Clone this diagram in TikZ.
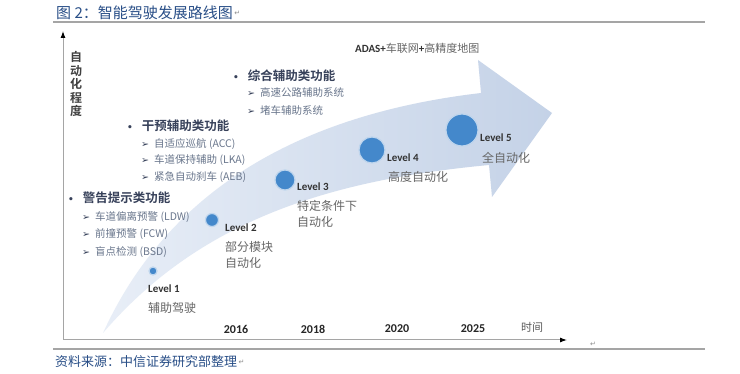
\documentclass[tikz,border=0pt]{standalone}
\usepackage{fontspec}
\setmainfont{Noto Sans CJK SC}[BoldFont={Noto Sans CJK SC Bold}]
\newfontfamily\latinfont{Carlito}
\newfontfamily\symfont{DejaVu Sans}
\usetikzlibrary{arrows.meta,positioning}
\definecolor{titleblue}{RGB}{40,78,135}
\definecolor{headgray}{RGB}{55,65,90}
\definecolor{itemgray}{RGB}{105,118,140}
\definecolor{dotblue}{RGB}{68,136,203}
\definecolor{bandblue}{RGB}{196,210,231}
\definecolor{bandlight}{RGB}{232,238,247}
\definecolor{axisgray}{RGB}{165,165,165}
\tikzstyle{level}=[circle,fill=dotblue,draw=white!65!dotblue,line width=1.2pt,inner sep=0pt]
\tikzstyle{lvltext}=[anchor=west,inner sep=0pt,font=\latinfont\bfseries\fontsize{11}{11}\selectfont,text=black!80]
\tikzstyle{lvldesc}=[anchor=west,inner sep=0pt,align=left,font=\fontsize{12}{15.5}\selectfont,text=black!60]
\tikzstyle{head}=[anchor=west,inner sep=0pt,font=\bfseries\fontsize{12.5}{12.5}\selectfont,text=headgray]
\tikzstyle{item}=[anchor=west,inner sep=0pt,font=\fontsize{10.5}{10.5}\selectfont,text=itemgray]
\tikzstyle{year}=[inner sep=0pt,font=\latinfont\bfseries\fontsize{12}{12}\selectfont,text=black!85]
\tikzstyle{retmark}=[inner sep=0pt,font=\symfont\fontsize{7}{7}\selectfont,text=black!45]
\newcommand{\bul}{{\symfont\fontsize{9}{9}\selectfont •}\hspace{9pt}}
\newcommand{\arr}{{\symfont\fontsize{9.5}{9.5}\selectfont\color{headgray}➢}\hspace{5pt}}

\begin{document}
\begin{tikzpicture}[x=1pt,y=-1pt]
\useasboundingbox[fill=white] (0,0) rectangle (740,374);
\node [anchor=west,inner sep=0pt,text=titleblue,font=\fontsize{15}{15}\selectfont] (title) at (56,13) {图 2：智能驾驶发展路线图};
\node [retmark,right=1pt of title] (titleret) {↵};
\draw [axisgray,line width=1.6pt] (53,22) -- (705,22);
\draw [axisgray,line width=1.6pt] (53,349) -- (705,349);
\node [anchor=west,inner sep=0pt,text=titleblue,font=\fontsize{13}{13}\selectfont] (source) at (55,362) {资料来源：中信证券研究部整理};
\node [retmark,right=1pt of source] (sourceret) {↵};
\node [retmark] (axisret) at (593,344) {↵};

\shade [left color=bandlight,right color=bandblue]
  (103,333) .. controls (150,230) and (250,120) .. (481,93)
  -- (478,60) -- (552,113) -- (492,197) -- (489,165)
  .. controls (330,180) and (200,220) .. (103,333) -- cycle;

\coordinate (origin) at (63,340);
\coordinate (ytop) at (63,31);
\coordinate (xend) at (567,340);
\draw [axisgray,line width=1pt,-{Latex[color=black,length=7pt,width=5pt]}] (origin) -- (ytop);
\draw [axisgray,line width=1pt,-{Latex[color=black,length=7pt,width=5pt]}] (origin) -- (xend);
\node [inner sep=0pt,align=center,text=black!75,font=\bfseries\fontsize{12}{13.5}\selectfont] (yname) at (76,84) {自\\动\\化\\程\\度};

\node [level,minimum size=8pt] (lv1) at (153,271) {};
\node [level,minimum size=13pt] (lv2) at (212,220) {};
\node [level,minimum size=20pt] (lv3) at (285,180) {};
\node [level,minimum size=26pt] (lv4) at (372,150) {};
\node [level,minimum size=32pt] (lv5) at (462,130) {};

\node [lvltext] (lv1t) at (148,289) {Level 1};
\node [lvldesc] (lv1d) at (148,308) {辅助驾驶};
\node [lvltext] (lv2t) at (225,228) {Level 2};
\node [lvldesc] (lv2d) at (225,255) {部分模块\\自动化};
\node [lvltext] (lv3t) at (297,187) {Level 3};
\node [lvldesc] (lv3d) at (297,214) {特定条件下\\自动化};
\node [lvltext] (lv4t) at (387,158) {Level 4};
\node [lvldesc] (lv4d) at (388,177) {高度自动化};
\node [lvltext] (lv5t) at (480,138) {Level 5};
\node [lvldesc] (lv5d) at (482,158) {全自动化};

\node [head] (warn) at (68,198) {\bul 警告提示类功能};
\node [item] (ldw) at (82,217) {\arr 车道偏离预警 (LDW)};
\node [item] (fcw) at (82,234) {\arr 前撞预警 (FCW)};
\node [item] (bsd) at (82,252) {\arr 盲点检测 (BSD)};
\node [head] (assist) at (127,126) {\bul 干预辅助类功能};
\node [item] (acc) at (141,144) {\arr 自适应巡航 (ACC)};
\node [item] (lka) at (141,160) {\arr 车道保持辅助 (LKA)};
\node [item] (aeb) at (141,177) {\arr 紧急自动刹车 (AEB)};
\node [head] (combo) at (233,76) {\bul 综合辅助类功能};
\node [item] (hwa) at (247,93) {\arr 高速公路辅助系统};
\node [item] (tja) at (247,110) {\arr 堵车辅助系统};

\node [anchor=west,inner sep=0pt,font=\fontsize{11}{11}\selectfont,text=black!60] (adas) at (355,48) {{\latinfont\bfseries\color{black!80}ADAS+}车联网{\latinfont\bfseries\color{black!80}+}高精度地图};

\node [year] (y2016) at (236,329) {2016};
\node [year] (y2018) at (313,329) {2018};
\node [year] (y2020) at (397,329) {2020};
\node [year] (y2025) at (473,329) {2025};
\node [inner sep=0pt,font=\fontsize{11}{11}\selectfont,text=black!65] (xname) at (532,327) {时间};
\end{tikzpicture}
\end{document}
